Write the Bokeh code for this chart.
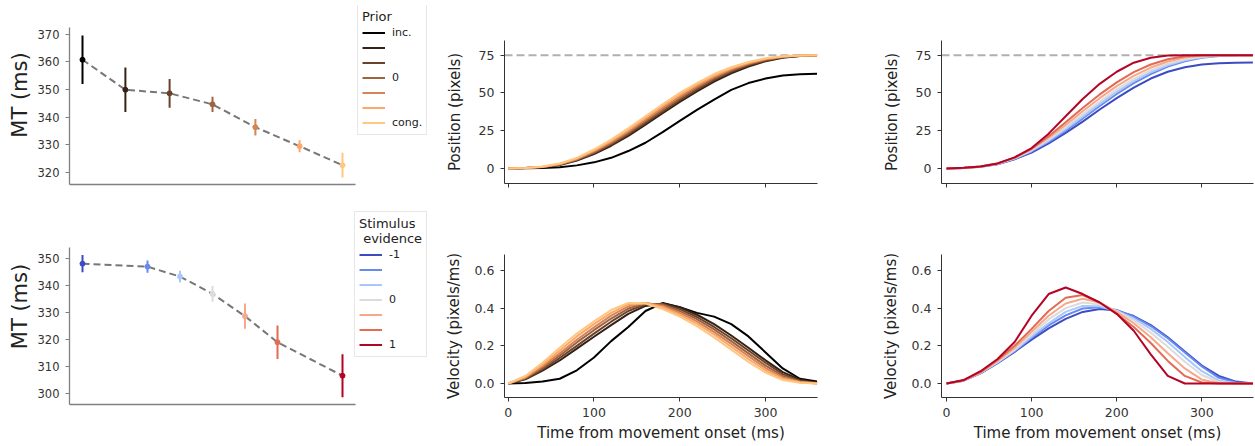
from bokeh.plotting import figure
from bokeh.layouts import row, column
from bokeh.models import Range1d, FixedTicker, PrintfTickFormatter, Legend, LegendItem, Span
from bokeh.embed import file_html
from bokeh.resources import INLINE

FONT = "DejaVu Sans"

# ---------------- data ----------------
prior_levels = [-1.0, -0.67, -0.33, 0.0, 0.33, 0.67, 1.0]
prior_labels = ["inc.", " ", " ", "0", " ", " ", "cong."]
prior_mt = [360.8, 349.9, 348.6, 344.6, 336.3, 329.4, 322.5]
prior_err = [8.8, 8.1, 5.2, 2.8, 3.0, 2.2, 4.5]
prior_colors = ["#000000", "#352115", "#6a422a", "#9f643f", "#d48555", "#ffa66a", "#ffc77f"]

stim_levels = [-1.0, -0.5, -0.25, 0.0, 0.25, 0.5, 1.0]
stim_labels = ["-1", " ", " ", "0", " ", " ", "1"]
stim_mt = [348.2, 347.1, 343.4, 337.0, 328.7, 319.0, 306.6]
stim_err = [3.2, 2.3, 2.2, 2.9, 4.7, 6.2, 8.0]
stim_colors = ["#3b4cc0", "#688aef", "#aac7fd", "#dddcdc", "#f7a889", "#e36a53", "#b40426"]

target_pos = 75

time_ms = [0, 20, 40, 60, 80, 100, 120, 140, 160, 180, 200, 220, 240, 260, 280, 300, 320, 340, 360]
time_ticks = [0, 100, 200, 300]

# position by prior (inc. -> cong.)
pos_prior_0 = [0, 0.1, 0.3, 0.8, 2.0, 4.0, 7.0, 11.5, 17.0, 24.0, 31.5, 38.8, 45.5, 52.0, 56.5, 59.5, 61.5, 62.4, 62.7]
pos_prior_1 = [0, 0.2, 0.8, 2.3, 5.2, 9.5, 15.0, 21.5, 29.0, 36.5, 44.0, 51.0, 57.5, 63.0, 67.5, 71.0, 73.3, 74.5, 75.0]
pos_prior_2 = [0, 0.22, 0.88, 2.5, 5.6, 10.1, 15.8, 22.5, 30.1, 37.7, 45.2, 52.2, 58.6, 64.0, 68.3, 71.5, 73.6, 74.5, 75.0]
pos_prior_3 = [0, 0.24, 0.95, 2.65, 5.9, 10.7, 16.6, 23.5, 31.2, 38.9, 46.4, 53.3, 59.6, 64.8, 68.9, 71.9, 73.8, 74.6, 75.0]
pos_prior_4 = [0, 0.26, 1.0, 2.8, 6.2, 11.3, 17.4, 24.5, 32.3, 40.1, 47.6, 54.4, 60.6, 65.6, 69.5, 72.3, 74.0, 74.7, 75.0]
pos_prior_5 = [0, 0.28, 1.1, 3.0, 6.6, 11.9, 18.2, 25.5, 33.4, 41.3, 48.8, 55.5, 61.5, 66.3, 70.0, 72.7, 74.1, 74.8, 75.0]
pos_prior_6 = [0, 0.3, 1.2, 3.2, 7.0, 12.5, 19.0, 26.5, 34.5, 42.5, 50.0, 56.5, 62.5, 67.0, 70.5, 73.0, 74.3, 74.8, 75.0]

# velocity by prior
vel_prior_0 = [0, 0.003, 0.01, 0.025, 0.07, 0.138, 0.225, 0.30, 0.385, 0.427, 0.405, 0.375, 0.355, 0.315, 0.25, 0.165, 0.08, 0.025, 0.01]
vel_prior_1 = [0, 0.022, 0.068, 0.122, 0.185, 0.248, 0.31, 0.37, 0.412, 0.425, 0.405, 0.365, 0.315, 0.255, 0.19, 0.123, 0.06, 0.02, 0.004]
vel_prior_2 = [0, 0.025, 0.075, 0.135, 0.2, 0.265, 0.328, 0.385, 0.42, 0.422, 0.395, 0.353, 0.3, 0.24, 0.175, 0.11, 0.05, 0.015, 0.002]
vel_prior_3 = [0, 0.028, 0.083, 0.148, 0.218, 0.283, 0.345, 0.398, 0.425, 0.418, 0.385, 0.342, 0.287, 0.225, 0.16, 0.095, 0.04, 0.011, 0.001]
vel_prior_4 = [0, 0.032, 0.092, 0.16, 0.232, 0.298, 0.36, 0.41, 0.428, 0.412, 0.375, 0.33, 0.273, 0.21, 0.145, 0.082, 0.032, 0.008, 0]
vel_prior_5 = [0, 0.035, 0.1, 0.175, 0.25, 0.315, 0.375, 0.42, 0.428, 0.405, 0.365, 0.318, 0.26, 0.195, 0.13, 0.07, 0.025, 0.006, 0]
vel_prior_6 = [0, 0.04, 0.11, 0.19, 0.265, 0.33, 0.39, 0.428, 0.425, 0.395, 0.355, 0.305, 0.245, 0.18, 0.115, 0.058, 0.018, 0.004, 0]

# position by stimulus evidence (-1 -> 1)
pos_stim_0 = [0, 0.3, 1.1, 2.8, 6.0, 10.5, 16.5, 23.5, 31.0, 39.0, 46.5, 53.5, 59.5, 64.0, 67.0, 68.8, 69.7, 70.0, 70.1]
pos_stim_1 = [0, 0.3, 1.1, 2.9, 6.3, 11.2, 17.5, 25.0, 33.0, 41.3, 49.3, 56.5, 62.5, 67.5, 71.0, 73.2, 74.4, 74.9, 75.0]
pos_stim_2 = [0, 0.3, 1.1, 3.0, 6.5, 11.7, 18.3, 26.0, 34.3, 42.7, 50.7, 57.8, 63.7, 68.3, 71.6, 73.6, 74.6, 75.0, 75.0]
pos_stim_3 = [0, 0.3, 1.2, 3.1, 6.8, 12.2, 19.2, 27.2, 35.8, 44.3, 52.3, 59.3, 65.0, 69.3, 72.3, 74.0, 74.8, 75.0, 75.0]
pos_stim_4 = [0, 0.3, 1.2, 3.2, 7.0, 12.7, 20.3, 28.8, 37.8, 46.5, 54.5, 61.3, 66.8, 70.8, 73.4, 74.6, 75.0, 75.0, 75.0]
pos_stim_5 = [0, 0.3, 1.2, 3.2, 7.1, 13.0, 21.3, 30.5, 40.0, 49.0, 57.0, 63.8, 68.8, 72.3, 74.3, 75.0, 75.0, 75.0, 75.0]
pos_stim_6 = [0, 0.4, 1.3, 3.3, 7.3, 13.5, 23.0, 34.5, 46.0, 56.0, 64.0, 70.0, 73.3, 74.7, 75.0, 75.0, 75.0, 75.0, 75.0]

# velocity by stimulus evidence
vel_stim_0 = [0, 0.015, 0.054, 0.108, 0.168, 0.233, 0.293, 0.343, 0.38, 0.395, 0.387, 0.358, 0.31, 0.245, 0.17, 0.095, 0.04, 0.01, 0]
vel_stim_1 = [0, 0.015, 0.055, 0.11, 0.172, 0.242, 0.308, 0.362, 0.398, 0.405, 0.39, 0.355, 0.305, 0.24, 0.165, 0.09, 0.03, 0.005, 0]
vel_stim_2 = [0, 0.015, 0.056, 0.112, 0.175, 0.25, 0.32, 0.38, 0.412, 0.41, 0.385, 0.345, 0.29, 0.22, 0.14, 0.065, 0.015, 0.002, 0]
vel_stim_3 = [0, 0.016, 0.057, 0.115, 0.18, 0.26, 0.34, 0.40, 0.43, 0.42, 0.385, 0.335, 0.27, 0.195, 0.115, 0.045, 0.008, 0, 0]
vel_stim_4 = [0, 0.016, 0.058, 0.12, 0.19, 0.275, 0.36, 0.425, 0.45, 0.43, 0.38, 0.32, 0.245, 0.16, 0.08, 0.02, 0.002, 0, 0]
vel_stim_5 = [0, 0.016, 0.06, 0.125, 0.2, 0.29, 0.385, 0.455, 0.47, 0.43, 0.37, 0.30, 0.215, 0.12, 0.04, 0.005, 0, 0, 0]
vel_stim_6 = [0, 0.018, 0.065, 0.13, 0.22, 0.36, 0.475, 0.51, 0.475, 0.43, 0.37, 0.28, 0.155, 0.04, 0, 0, 0, 0, 0]

pos_prior = [pos_prior_0, pos_prior_1, pos_prior_2, pos_prior_3, pos_prior_4, pos_prior_5, pos_prior_6]
vel_prior = [vel_prior_0, vel_prior_1, vel_prior_2, vel_prior_3, vel_prior_4, vel_prior_5, vel_prior_6]
pos_stim = [pos_stim_0, pos_stim_1, pos_stim_2, pos_stim_3, pos_stim_4, pos_stim_5, pos_stim_6]
vel_stim = [vel_stim_0, vel_stim_1, vel_stim_2, vel_stim_3, vel_stim_4, vel_stim_5, vel_stim_6]


# ---------------- helpers ----------------
def make_fig(width, height, left, right, top, bottom, xr, yr):
    p = figure(width=width, height=height,
               min_border_left=left, min_border_right=right,
               min_border_top=top, min_border_bottom=bottom,
               x_range=Range1d(*xr), y_range=Range1d(*yr),
               output_backend="svg", toolbar_location=None, tools="")
    p.outline_line_color = None
    p.grid.visible = False
    p.background_fill_color = "white"
    p.border_fill_color = "white"
    for ax in (p.xaxis[0], p.yaxis[0]):
        ax.minor_tick_line_color = None
        ax.major_tick_in = 0
        ax.major_tick_out = 4
        ax.axis_label_text_font = FONT
        ax.axis_label_text_font_style = "normal"
        ax.major_label_text_font = FONT
        ax.axis_label_text_color = "#222222"
        ax.major_label_text_color = "#333333"
    return p


def mt_panel(levels, mt, err, colors, labels, title, ylim, yticks,
             height, top, bottom, axis_px, legend_xy):
    # axes occupy axis_px (width, height) of the frame; the rest of the frame
    # (to the right and above) hosts the legend
    xlim = (-1.1, 1.1)
    frame_w = 430 - 69
    frame_h = height - top - bottom
    x_end = xlim[0] + (xlim[1] - xlim[0]) * frame_w / axis_px[0]
    y_end = ylim[0] + (ylim[1] - ylim[0]) * frame_h / axis_px[1]
    p = make_fig(430, height, 69, 0, top, bottom, (xlim[0], x_end), (ylim[0], y_end))
    ax = p.yaxis[0]
    ax.bounds = ylim
    ax.ticker = FixedTicker(ticks=yticks)
    ax.axis_label = "MT (ms)"
    ax.axis_label_text_font_size = "21px"
    ax.major_label_text_font_size = "11.5px"
    ax.major_label_standoff = 6
    ax.axis_label_standoff = 3
    ax.axis_line_color = "#808080"
    ax.major_tick_line_color = "#808080"
    ax.axis_line_width = 1.3
    xa = p.xaxis[0]
    xa.bounds = xlim
    xa.ticker = FixedTicker(ticks=[])
    xa.major_tick_out = 0
    xa.axis_line_color = "#808080"
    xa.axis_line_width = 1.3

    p.line(levels, mt, line_color="#777777", line_width=2, line_dash="7 4")
    items = []
    for i in range(len(levels)):
        r = p.segment(x0=[levels[i]], y0=[mt[i] - err[i]], x1=[levels[i]], y1=[mt[i] + err[i]],
                      line_color=colors[i], line_width=2)
        p.scatter([levels[i]], [mt[i]], size=5, color=colors[i])
        items.append(LegendItem(label=labels[i], renderers=[r]))
    leg = Legend(items=items, location=legend_xy, title=title,
                 title_text_font=FONT, title_text_font_size="13px", title_text_font_style="normal",
                 title_text_color="#222222", title_standoff=1,
                 label_text_font=FONT, label_text_font_size="11px", label_text_color="#222222",
                 glyph_width=23, glyph_height=15, label_height=15, label_standoff=7,
                 spacing=0, padding=4, margin=0,
                 border_line_color="#d0d0d0", border_line_width=1,
                 background_fill_color="white", background_fill_alpha=0.85)
    p.add_layout(leg, "center")
    return p


def curve_panel(curves, colors, width, height, left, right, top, bottom, xr, yr, kind, show_x):
    p = make_fig(width, height, left, right, top, bottom, xr, yr)
    xa, ya = p.xaxis[0], p.yaxis[0]
    for a in (xa, ya):
        a.axis_line_color = "#333333"
        a.major_tick_line_color = "#333333"
        a.major_label_text_font_size = "12.5px"
        a.axis_label_text_font_size = "15px"
        a.major_label_standoff = 6
    xa.ticker = FixedTicker(ticks=time_ticks)
    if show_x:
        xa.axis_label = "Time from movement onset (ms)"
        xa.axis_label_standoff = 4
    else:
        xa.major_label_overrides = {t: "" for t in time_ticks}
    if kind == "pos":
        ya.ticker = FixedTicker(ticks=[0, 25, 50, 75])
        ya.axis_label = "Position (pixels)"
        ya.axis_label_standoff = 12
        p.add_layout(Span(location=target_pos, dimension="width", line_color="#b0b0b0",
                          line_dash="8 4", line_width=2, level="underlay"))
    else:
        ya.ticker = FixedTicker(ticks=[0.0, 0.2, 0.4, 0.6])
        ya.formatter = PrintfTickFormatter(format="%.1f")
        ya.axis_label = "Velocity (pixels/ms)"
        ya.axis_label_standoff = 9
    for c, col in zip(curves, colors):
        p.line(time_ms, c, line_color=col, line_width=2)
    return p


# ---------------- panels ----------------
f1 = mt_panel(prior_levels, prior_mt, prior_err, prior_colors, prior_labels, "Prior",
              (315.5, 372.5), [320, 330, 340, 350, 360, 370],
              204, 5, 20, (286, 157), (288, 49))
f4 = mt_panel(stim_levels, stim_mt, stim_err, stim_colors, stim_labels, "Stimulus\n evidence",
              (295.9, 354.2), [300, 310, 320, 330, 340, 350],
              242, 4, 42, (286, 157), (285, 47))

f2 = curve_panel(pos_prior, prior_colors, 440, 203, 74, 53, 40, 20, (-4.3, 360.5), (-10, 84.7), "pos", False)
f5 = curve_panel(vel_prior, prior_colors, 440, 243, 74, 53, 51, 49, (-4.3, 360.5), (-0.0745, 0.685), "vel", True)
f3 = curve_panel(pos_stim, stim_colors, 385, 203, 71, 2, 40, 20, (-5.9, 360.7), (-10, 84.7), "pos", False)
f6 = curve_panel(vel_stim, stim_colors, 385, 243, 71, 2, 51, 49, (-5.9, 360.7), (-0.0745, 0.685), "vel", True)

layout = row(column(f1, f4), column(f2, f5), column(f3, f6))

open("out.html", "w").write(file_html(layout, INLINE))
